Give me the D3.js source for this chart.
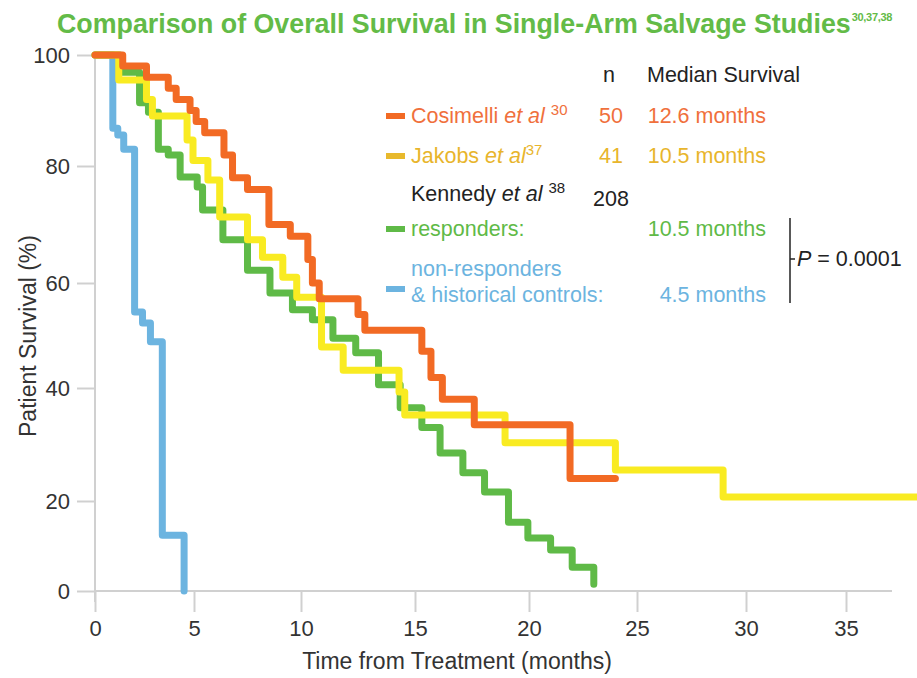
<!DOCTYPE html>
<html lang="en">
<head>
<meta charset="UTF-8">
<title>overall-survival-km</title>
<script src="https://cdn.jsdelivr.net/npm/d3@7"></script>
<style>
    body { margin: 0; background: #fff; }
    svg { display: block; font-family: "Liberation Sans", Arial, Helvetica, sans-serif; }
    .axis line { stroke: #d0d0d0; stroke-width: 2; }
    .axis text { fill: #333; font-size: 22px; }
    .legend text { font-size: 21.5px; }
</style>
</head>
<body>
<svg class="chart"></svg>
<script>
    var width = 917;
    var height = 678;

    // axis ticks
    var monthTicks = [0, 5, 10, 15, 20, 25, 30, 35];
    var pctTicks = [0, 20, 40, 60, 80, 100];

    // KM steps: [month, % alive]
    var cosimelli = [[0,100],[1.4,98],[2.6,96],[3.7,94],[4.1,92],[4.8,90],[5.1,88],[5.5,86],[6.4,82],[6.8,78],
        [7.5,76],[8.5,70],[9.5,68],[10.3,64],[10.5,60],[10.8,57],[12.5,54],[12.8,51],[15.3,47],[15.7,42],
        [16.2,38],[17.6,33.5],[21.9,24],[24,24]];
    var jakobs = [[0,100],[1.2,95.5],[2.6,92],[2.9,89],[4.65,84.7],[4.95,81],[5.65,77.6],[6.2,71.3],[7.5,67.4],
        [8.2,64.4],[9.15,61],[9.8,57.3],[10.9,47.8],[11.85,43.4],[14.3,39.3],[14.55,35.2],[18.95,30.3],
        [24,25.5],[28.95,20.7],[38.6,20.7]];
    var responders = [[0,100],[1.25,96.9],[2.25,91.4],[2.7,89.7],[3.2,83],[3.7,82],[4.3,78.1],[5.15,76.4],
        [5.4,72.5],[6.35,67.4],[7.5,62.2],[8.55,58.1],[9.6,54.9],[10.5,53],[11.4,49.5],[12.4,46.7],[13.4,40.6],
        [14.35,36.5],[15.3,33],[16.1,28.5],[17.1,25],[18.05,21.6],[19.1,15.3],[19.95,11.8],[21,9.1],[22,5.3],[23,1.5]];
    var nonResponders = [[0,100],[0.9,86.8],[1.15,85.6],[1.45,83],[2.0,54.5],[2.4,52.4],[2.8,48.8],[3.4,12.4],[4.5,0]];

    // legend columns
    var nValues = ['50', '41', '208'];
    var medians = ['12.6 months', '10.5 months', '10.5 months', '4.5 months'];

    var orange = '#f26a24', yellow = '#f9eb22', green = '#5fba47', blue = '#6cb4e0';

    var svg = d3.select('.chart')
        .attr('width', width)
        .attr('height', height);

    // the original axes are not evenly spaced, so the scales are piecewise
    var x = d3.scaleLinear()
        .domain(monthTicks)
        .range([95, 194, 301, 415, 529, 637, 746, 846]);
    var y = d3.scaleLinear()
        .domain(pctTicks)
        .range([591, 501, 388, 283, 166, 55]);

    // title
    var title = svg.append('text')
        .attr('x', 57)
        .attr('y', 33)
        .attr('fill', '#63bb47')
        .attr('font-weight', 'bold')
        .attr('font-size', 26.8)
        .text('Comparison of Overall Survival in Single-Arm Salvage Studies');
    svg.append('text')
        .attr('x', 57 + title.node().getComputedTextLength() + 1)
        .attr('y', 21)
        .attr('fill', '#63bb47')
        .attr('font-weight', 'bold')
        .attr('font-size', 11)
        .attr('letter-spacing', -0.3)
        .text('30,37,38');

    // axes
    svg.append('g')
        .attr('class', 'axis')
        .attr('transform', 'translate(0,' + y(0) + ')')
        .call(d3.axisBottom(x).tickValues(monthTicks).tickSize(21).tickPadding(8))
        .call(function (g) { g.select('.domain').remove(); });

    svg.append('g')
        .attr('class', 'axis')
        .attr('transform', 'translate(' + x(0) + ',0)')
        .call(d3.axisLeft(y).tickValues(pctTicks).tickSize(18).tickPadding(7))
        .call(function (g) { g.select('.domain').remove(); });

    var axisLines = svg.append('g').attr('class', 'axis');
    axisLines.append('line')
        .attr('x1', x(0)).attr('x2', x(0))
        .attr('y1', y(100)).attr('y2', y(0) + 11);
    axisLines.append('line')
        .attr('x1', x(0)).attr('x2', x(37.3))
        .attr('y1', y(0)).attr('y2', y(0));

    svg.append('text')
        .attr('x', 457)
        .attr('y', 669)
        .attr('text-anchor', 'middle')
        .attr('font-size', 23)
        .attr('fill', '#333')
        .text('Time from Treatment (months)');

    svg.append('text')
        .attr('transform', 'translate(36,336) rotate(-90)')
        .attr('text-anchor', 'middle')
        .attr('font-size', 23)
        .attr('fill', '#333')
        .text('Patient Survival (%)');

    // survival curves
    var line = d3.line()
        .x(function (d) { return x(d[0]); })
        .y(function (d) { return y(d[1]); })
        .curve(d3.curveStepAfter);

    var curves = [
        {data: nonResponders, color: blue},
        {data: responders, color: green},
        {data: jakobs, color: yellow},
        {data: cosimelli, color: orange}
    ];

    svg.append('g')
        .selectAll('path')
        .data(curves)
        .enter()
        .append('path')
        .attr('d', function (d) { return line(d.data); })
        .attr('fill', 'none')
        .attr('stroke', function (d) { return d.color; })
        .attr('stroke-width', 7)
        .attr('stroke-linejoin', 'round')
        .attr('stroke-linecap', 'round');

    // legend
    var legend = svg.append('g').attr('class', 'legend');

    function swatch(yy, color) {
        legend.append('line')
            .attr('x1', 386).attr('x2', 405)
            .attr('y1', yy).attr('y2', yy)
            .attr('stroke', color)
            .attr('stroke-width', 6);
    }

    function label(xx, yy, color, parts, anchor) {
        var t = legend.append('text')
            .attr('x', xx)
            .attr('y', yy)
            .attr('fill', color)
            .attr('text-anchor', anchor || 'start');
        parts.forEach(function (p) {
            var s = t.append('tspan').text(p.t);
            if (p.i) s.attr('font-style', 'italic');
            if (p.sup) s.attr('dy', -8).attr('font-size', 15);
        });
        return t;
    }

    label(609, 82, '#222', [{t: 'n'}], 'middle');
    label(647, 82, '#222', [{t: 'Median Survival'}]);

    swatch(116, orange);
    label(411, 123, '#f0703c', [{t: 'Cosimelli '}, {t: 'et al', i: 1}, {t: ' '}, {t: '30', sup: 1}]);
    label(611, 123, '#f0703c', [{t: nValues[0]}], 'middle');
    label(766, 123, '#f0703c', [{t: medians[0]}], 'end');

    swatch(156, '#e8b92c');
    label(411, 163, '#e8b52c', [{t: 'Jakobs '}, {t: 'et al', i: 1}, {t: '37', sup: 1}]);
    label(611, 163, '#e8b52c', [{t: nValues[1]}], 'middle');
    label(766, 163, '#e8b52c', [{t: medians[1]}], 'end');

    label(411, 201, '#222', [{t: 'Kennedy '}, {t: 'et al', i: 1}, {t: ' '}, {t: '38', sup: 1}]);
    label(611, 206, '#222', [{t: nValues[2]}], 'middle');

    swatch(229, green);
    label(411, 236, green, [{t: 'responders:'}]);
    label(766, 236, green, [{t: medians[2]}], 'end');

    swatch(289, blue);
    label(411, 276, blue, [{t: 'non-responders'}]);
    label(411, 302, blue, [{t: '& historical controls:'}]);
    label(766, 302, blue, [{t: medians[3]}], 'end');

    // P-value bracket
    legend.append('line')
        .attr('x1', 790).attr('x2', 790)
        .attr('y1', 218).attr('y2', 303)
        .attr('stroke', '#222').attr('stroke-width', 1.5);
    legend.append('line')
        .attr('x1', 790).attr('x2', 795)
        .attr('y1', 259).attr('y2', 259)
        .attr('stroke', '#222').attr('stroke-width', 1.5);
    label(797, 266, '#222', [{t: 'P', i: 1}, {t: ' = 0.0001'}]);
</script>
</body>
</html>
